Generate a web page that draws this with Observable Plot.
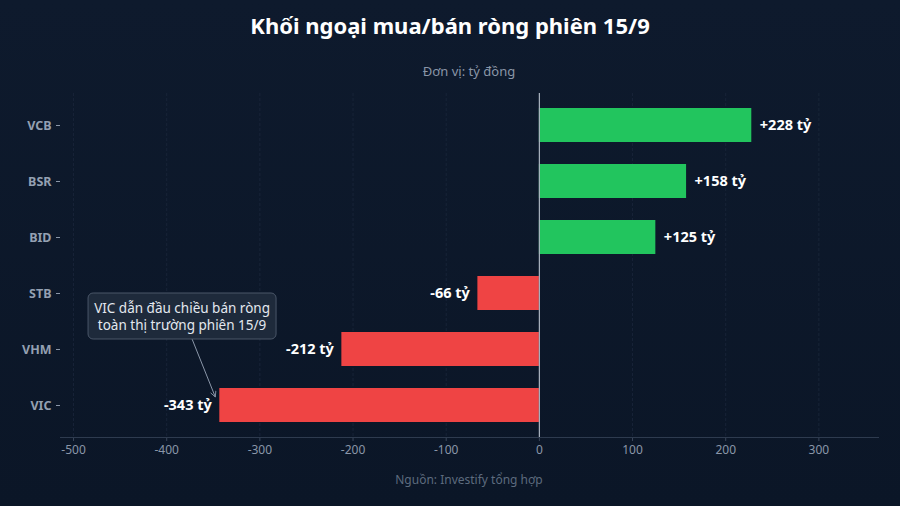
<!DOCTYPE html>
<html>
<head>
<meta charset="utf-8">
<script src="https://cdn.jsdelivr.net/npm/d3@7"></script>
<script src="https://cdn.jsdelivr.net/npm/@observablehq/plot@0.6"></script>
<style>
  html, body { margin: 0; padding: 0; }
  body {
    width: 900px; height: 506px; overflow: hidden; position: relative;
    background: linear-gradient(180deg, #0e1a2d 0%, #0b1627 100%);
    font-family: "Noto Sans", "Open Sans", sans-serif;
  }
  #title {
    position: absolute; left: 0; top: 10px; width: 900px; text-align: center;
    color: #ffffff; font-weight: 700; font-size: 22px;
  }
  #subtitle {
    position: absolute; left: 60px; top: 62px; width: 818px; text-align: center;
    color: #8a96a8; font-size: 13px;
  }
  #chart { position: absolute; left: 0; top: 49px; }
  #caption {
    position: absolute; left: 60px; top: 471px; width: 818px; text-align: center;
    color: #5d6b7e; font-size: 12px;
  }
</style>
</head>
<body>
<div id="title">Khối ngoại mua/bán ròng phiên 15/9</div>
<div id="subtitle">Đơn vị: tỷ đồng</div>
<div id="chart"></div>
<div id="caption">Nguồn: Investify tổng hợp</div>
<script>
const tickers = ["VCB", "BSR", "BID", "STB", "VHM", "VIC"];
const values = [228, 158, 125, -66, -212, -343];
const xTicks = [-500, -400, -300, -200, -100, 0, 100, 200, 300];
const xDomain = [-514, 364];
const annotationText = ["VIC dẫn đầu chiều bán ròng", "toàn thị trường phiên 15/9"];
const annotationTicker = "VIC";

const data = tickers.map((t, i) => ({
  ticker: t,
  value: values[i],
  label: (values[i] > 0 ? "+" : "") + values[i] + " tỷ"
}));

const plot = Plot.plot({
  width: 900,
  height: 420,
  marginTop: 44,
  marginBottom: 32,
  marginLeft: 60,
  marginRight: 22,
  style: { background: "transparent", fontFamily: "'Noto Sans', 'Open Sans', sans-serif" },
  x: { domain: xDomain, ticks: xTicks, label: null },
  y: { domain: tickers, paddingInner: 0.4, paddingOuter: 0.27, label: null },
  marks: [
    Plot.gridX(xTicks, { stroke: "#182438", strokeOpacity: 1, strokeWidth: 1, strokeDasharray: "3,2" }),
    Plot.axisX({ ticks: xTicks, tickFormat: d => String(d), tickSize: 4, tickPadding: 4, stroke: "#3a475a", color: "#8a96a8", fontSize: 12, label: null }),
    Plot.axisY({ tickSize: 4, tickPadding: 5, stroke: "#8a96a8", color: "#94a0b2", fontSize: 12.5, fontWeight: 700, label: null }),
    Plot.frame({ anchor: "bottom", stroke: "#2e3b4f" }),
    Plot.barX(data, {
      x: "value", y: "ticker",
      fill: d => d.value >= 0 ? "#22c55e" : "#ef4444"
    }),
    Plot.ruleX([0], { stroke: "#aab3c0", strokeWidth: 1.2 }),
    Plot.text(data.filter(d => d.value >= 0), {
      x: "value", y: "ticker", text: "label", textAnchor: "start", dx: 8,
      fill: "#ffffff", fontSize: 14.5, fontWeight: 700
    }),
    Plot.text(data.filter(d => d.value < 0), {
      x: "value", y: "ticker", text: "label", textAnchor: "end", dx: -8,
      fill: "#ffffff", fontSize: 14.5, fontWeight: 700
    })
  ]
});

document.getElementById("chart").appendChild(plot);

// Annotation positioned through the plot's own scales
const xs = plot.scale("x");
const ys = plot.scale("y");
const annValue = values[tickers.indexOf(annotationTicker)];
const tipX = xs.apply(annValue) - 4;
const tipY = ys.apply(annotationTicker) + 9;
const iStb = ys.apply("STB"), iVhm = ys.apply("VHM");
const boxCX = xs.apply(-383);
const boxCY = (iStb + iVhm) / 2 + ys.bandwidth / 2 - 5;
const svg = d3.select(plot);
const g = svg.append("g");
const boxW = 188, boxH = 46;
const defs = svg.append("defs");
defs.append("marker").attr("id", "ah").attr("viewBox", "0 0 10 10")
  .attr("refX", 9).attr("refY", 5).attr("markerWidth", 7).attr("markerHeight", 7)
  .attr("orient", "auto")
  .append("path").attr("d", "M1,1 L9,5 L1,9").attr("fill", "none").attr("stroke", "#8a96a8").attr("stroke-width", 1.2);
g.append("line")
  .attr("x1", boxCX + 10).attr("y1", boxCY + boxH / 2)
  .attr("x2", tipX).attr("y2", tipY)
  .attr("stroke", "#8a96a8").attr("stroke-width", 1)
  .attr("marker-end", "url(#ah)");
g.append("rect")
  .attr("x", boxCX - boxW / 2).attr("y", boxCY - boxH / 2)
  .attr("width", boxW).attr("height", boxH).attr("rx", 5)
  .attr("fill", "#1e2a3b").attr("stroke", "#4a5668").attr("stroke-width", 1);
annotationText.forEach((line, i) => {
  g.append("text")
    .attr("x", boxCX).attr("y", boxCY - 3 + i * 16.5)
    .attr("text-anchor", "middle").attr("fill", "#e3e8ef")
    .attr("font-size", 13.5).attr("font-family", "'Noto Sans', sans-serif")
    .text(line);
});
</script>
</body>
</html>
